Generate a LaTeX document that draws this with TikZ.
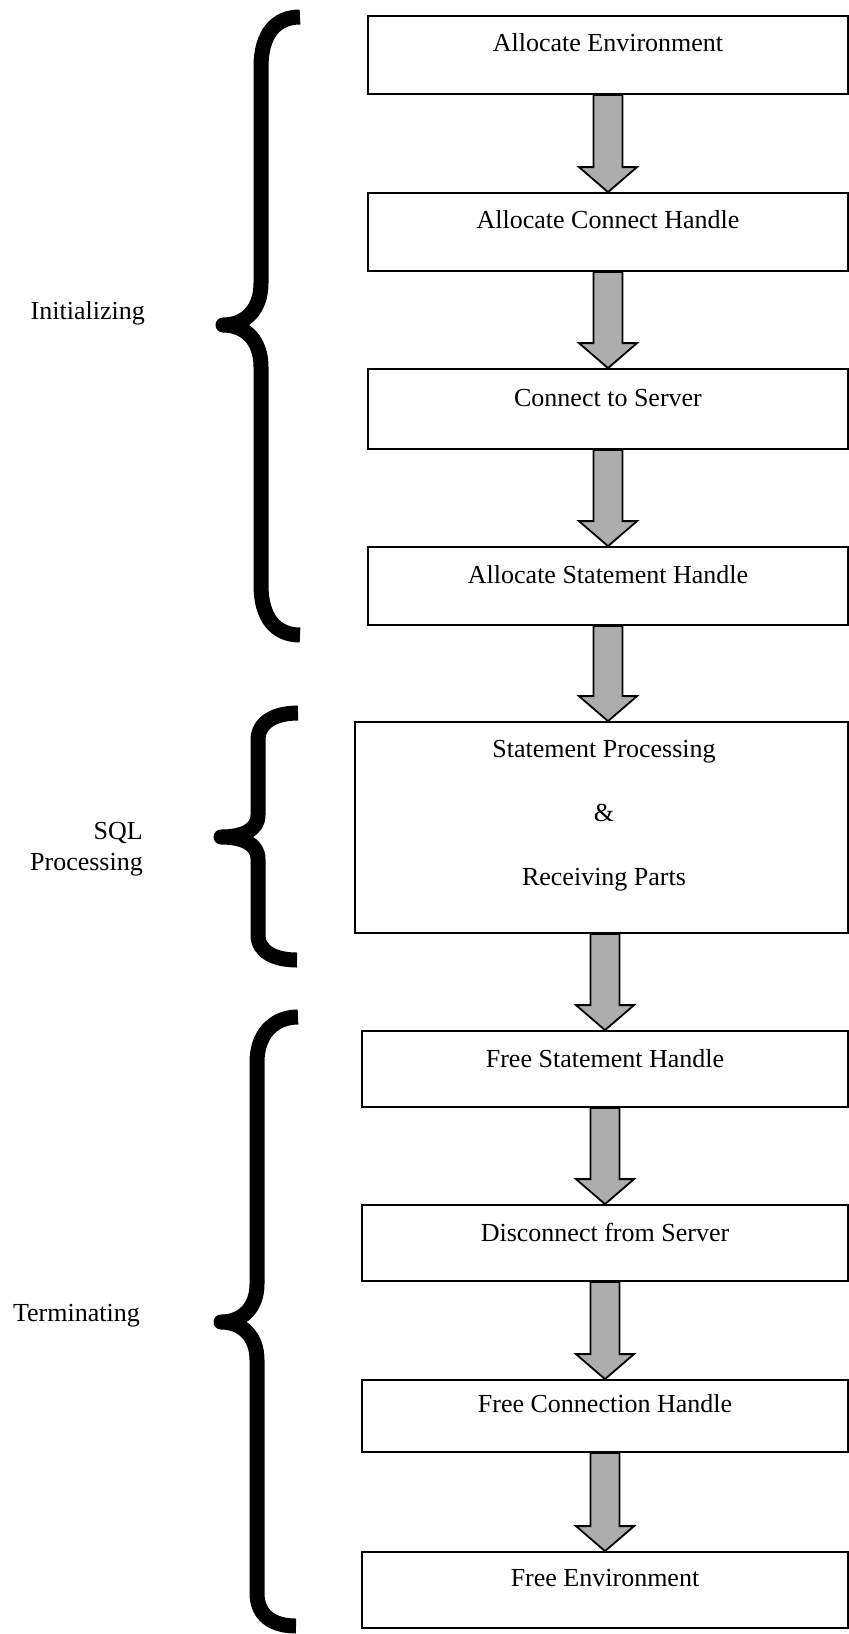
\documentclass[tikz,border=0pt]{standalone}
\usepackage{fontspec}
\setmainfont{Liberation Serif}
\usetikzlibrary{calc}
\tikzset{
  stepbox/.style={draw=black, line width=1.8pt, rectangle, inner sep=0pt},
  boxtext/.style={anchor=base, inner sep=0pt, font=\fontsize{26}{30.7}\selectfont},
  sidetext/.style={inner sep=0pt, font=\fontsize{26}{30.7}\selectfont, align=right},
  fatarr/.style={draw=black, line width=1.8pt, fill=black!32, line join=miter},
  bracestroke/.style={draw=black, line width=15pt, line cap=butt, line join=round}
}
\newcommand\fatarrow[3]{%
  \draw[fatarr] let \p1=(#1.south), \p2=(#2.north), \p3=(#3.center) in
    (\x3-14.5pt,\y1) -- (\x3-14.5pt,\y2+25pt) -- (\x3-29pt,\y2+25pt) --
    (\x3,\y2) -- (\x3+29pt,\y2+25pt) -- (\x3+14.5pt,\y2+25pt) --
    (\x3+14.5pt,\y1) -- cycle;}
\begin{document}
\begin{tikzpicture}[x=1pt,y=-1pt]
\useasboundingbox (0,0) rectangle (849,1634);
% boxes
\node[stepbox, minimum width=480pt, minimum height=78pt] (b1) at (608,55) {};
\node[stepbox, minimum width=480pt, minimum height=78pt] (b2) at (608,232) {};
\node[stepbox, minimum width=480pt, minimum height=80pt] (b3) at (608,409) {};
\node[stepbox, minimum width=480pt, minimum height=78pt] (b4) at (608,586) {};
\node[stepbox, minimum width=493pt, minimum height=211pt] (b5) at (601.5,827.5) {};
\node[stepbox, minimum width=486pt, minimum height=76pt] (b6) at (605,1069) {};
\node[stepbox, minimum width=486pt, minimum height=76pt] (b7) at (605,1243) {};
\node[stepbox, minimum width=486pt, minimum height=72pt] (b8) at (605,1416) {};
\node[stepbox, minimum width=486pt, minimum height=76pt] (b9) at (605,1590) {};
% box texts
\node[boxtext] (t1) at (608,51.7) {Allocate Environment};
\node[boxtext] (t2) at (608,228.3) {Allocate Connect Handle};
\node[boxtext] (t3) at (608,406) {Connect to Server};
\node[boxtext] (t4) at (608,583) {Allocate Statement Handle};
\node[boxtext] (t5a) at (604,757) {Statement Processing};
\node[boxtext] (t5b) at (604,821) {\&};
\node[boxtext] (t5c) at (604,885) {Receiving Parts};
\node[boxtext] (t6) at (605,1067) {Free Statement Handle};
\node[boxtext] (t7) at (605,1241) {Disconnect from Server};
\node[boxtext] (t8) at (605,1412) {Free Connection Handle};
\node[boxtext] (t9) at (605,1586) {Free Environment};
% arrows
\fatarrow{b1}{b2}{b1}
\fatarrow{b2}{b3}{b2}
\fatarrow{b3}{b4}{b3}
\fatarrow{b4}{b5}{b4}
\fatarrow{b5}{b6}{b6}
\fatarrow{b6}{b7}{b7}
\fatarrow{b7}{b8}{b8}
\fatarrow{b8}{b9}{b9}
% braces
\draw[bracestroke] (300,17) .. controls (275,17) and (261,35) .. (261,67)
  -- (261,283) .. controls (261,310) and (245,325) .. (223,325)
  .. controls (245,325) and (261,340) .. (261,367)
  -- (261,585) .. controls (261,617) and (275,635) .. (300,635);
\draw[bracestroke] (298,713) .. controls (275,713) and (258,722) .. (258,740)
  -- (258,815) .. controls (258,830) and (243,837) .. (221,837)
  .. controls (243,837) and (258,844) .. (258,859)
  -- (258,935) .. controls (258,952) and (275,960) .. (297,960);
\draw[bracestroke] (298,1017) .. controls (273,1017) and (257,1035) .. (257,1062)
  -- (257,1284) .. controls (257,1308) and (242,1322) .. (221,1322)
  .. controls (242,1322) and (257,1336) .. (257,1360)
  -- (257,1593) .. controls (257,1615) and (272,1626) .. (296,1626);
% side labels
\node[sidetext, anchor=base east] (l1) at (145,319.3) {Initializing};
\node[sidetext, anchor=east] (l2) at (143,849) {SQL\\Processing};
\node[sidetext, anchor=base east] (l3) at (140,1321.7) {Terminating};
\end{tikzpicture}
\end{document}
